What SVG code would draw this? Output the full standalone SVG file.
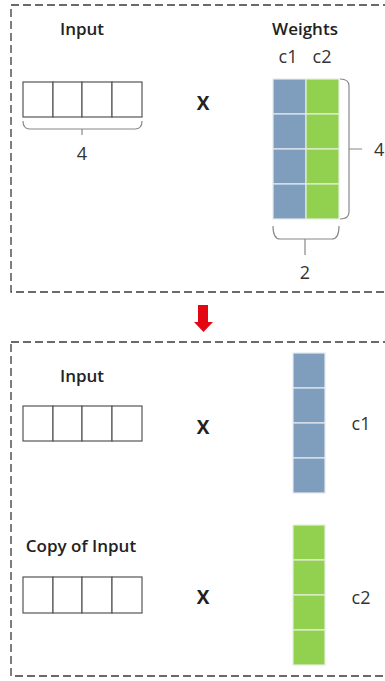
<svg xmlns="http://www.w3.org/2000/svg" width="385" height="681" viewBox="0 0 385 681">
<style>
.frame{fill:none;stroke:#3a3a3a;stroke-width:1.3;stroke-dasharray:8 4}
.cell{fill:#fff;stroke:#555;stroke-width:1.2}
.blue{fill:#7f9ebd;stroke:#e4e9ef;stroke-width:1.2}
.green{fill:#92d050;stroke:#e4eedb;stroke-width:1.2}
.brace{fill:none;stroke:#888;stroke-width:1.2}
.title{font-family:"Open Sans",sans-serif;font-weight:600;font-size:17px;fill:#222}
.lbl{font-family:"Open Sans",sans-serif;font-size:18px;fill:#333}
.x{font-family:"Open Sans",sans-serif;font-weight:700;font-size:19px;fill:#222}
</style>
<g id="frame-top"><rect class="frame" x="11" y="5" width="385" height="287"/></g>
<g id="frame-bottom"><rect class="frame" x="11" y="342" width="385" height="334"/></g>

<g id="input-top">
<text class="title" x="82" y="35" text-anchor="middle">Input</text>
<rect class="cell" x="23" y="82" width="30" height="35"/>
<rect class="cell" x="53" y="82" width="29" height="35"/>
<rect class="cell" x="82" y="82" width="30" height="35"/>
<rect class="cell" x="112" y="82" width="30" height="35"/>
<path class="brace" d="M23,121 Q23,129 30,129 H82 V135 M82,129 H135 Q142,129 142,121"/>
<text class="lbl" x="82" y="160" text-anchor="middle">4</text>
</g>

<g id="times-top"><text class="x" x="203" y="110" text-anchor="middle">X</text></g>

<g id="weights">
<text class="title" x="305" y="35" text-anchor="middle">Weights</text>
<text class="lbl" x="288" y="63" text-anchor="middle">c1</text>
<text class="lbl" x="322" y="63" text-anchor="middle">c2</text>
<rect class="blue" x="273" y="79" width="33" height="35"/>
<rect class="blue" x="273" y="114" width="33" height="35"/>
<rect class="blue" x="273" y="149" width="33" height="35"/>
<rect class="blue" x="273" y="184" width="33" height="35"/>
<rect class="green" x="306" y="79" width="33" height="35"/>
<rect class="green" x="306" y="114" width="33" height="35"/>
<rect class="green" x="306" y="149" width="33" height="35"/>
<rect class="green" x="306" y="184" width="33" height="35"/>
<path class="brace" d="M340,79 Q349,79 349,86 V212 Q349,219 340,219 M349,149 H362"/>
<text class="lbl" x="374" y="156">4</text>
<path class="brace" d="M273,226 Q273,239 280,239 H305 V255 M305,239 H332 Q339,239 339,226"/>
<text class="lbl" x="305" y="279" text-anchor="middle">2</text>
</g>

<g id="connectors">
<path d="M198,305 H208 V322 H213 L203.5,332 L194,322 H198 Z" fill="#e30613"/>
</g>

<g id="input-c1">
<text class="title" x="82" y="382" text-anchor="middle">Input</text>
<rect class="cell" x="23" y="406" width="30" height="35"/>
<rect class="cell" x="53" y="406" width="29" height="35"/>
<rect class="cell" x="82" y="406" width="30" height="35"/>
<rect class="cell" x="112" y="406" width="30" height="35"/>
</g>
<g id="times-c1"><text class="x" x="203" y="434" text-anchor="middle">X</text></g>
<g id="col-c1">
<rect class="blue" x="293" y="353" width="32" height="35"/>
<rect class="blue" x="293" y="388" width="32" height="35"/>
<rect class="blue" x="293" y="423" width="32" height="35"/>
<rect class="blue" x="293" y="458" width="32" height="35"/>
<text class="lbl" x="361" y="430" text-anchor="middle">c1</text>
</g>

<g id="input-c2">
<text class="title" x="81" y="552" text-anchor="middle">Copy of Input</text>
<rect class="cell" x="23" y="577" width="30" height="36"/>
<rect class="cell" x="53" y="577" width="29" height="36"/>
<rect class="cell" x="82" y="577" width="30" height="36"/>
<rect class="cell" x="112" y="577" width="30" height="36"/>
</g>
<g id="times-c2"><text class="x" x="203" y="604" text-anchor="middle">X</text></g>
<g id="col-c2">
<rect class="green" x="293" y="525" width="32" height="35"/>
<rect class="green" x="293" y="560" width="32" height="35"/>
<rect class="green" x="293" y="595" width="32" height="35"/>
<rect class="green" x="293" y="630" width="32" height="35"/>
<text class="lbl" x="361" y="604" text-anchor="middle">c2</text>
</g>
</svg>
